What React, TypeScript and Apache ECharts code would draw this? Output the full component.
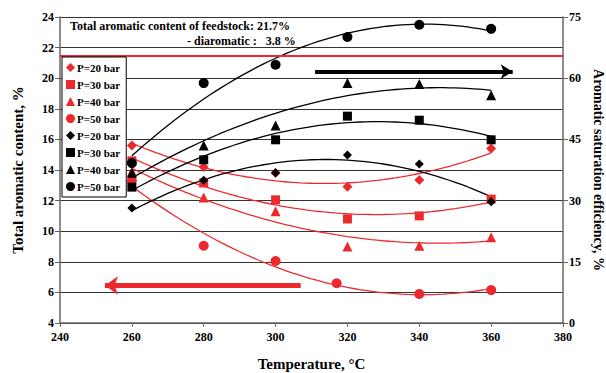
import React, { useEffect, useRef } from "react";
import * as echarts from "echarts";

const temps = [260, 280, 300, 320, 340, 360];
const tempsRedP50 = [260, 280, 300, 317, 340, 360];
const redP20 = [15.6, 14.2, 13.8, 12.9, 13.35, 15.4];
const redP30 = [14.6, 13.15, 12.05, 10.8, 11.0, 12.1];
const redP40 = [13.9, 12.2, 11.3, 9.0, 9.05, 9.6];
const redP50 = [13.3, 9.05, 8.05, 6.6, 5.9, 6.15];
const blkP20 = [28.2, 35.0, 36.8, 41.2, 39.0, 29.7];
const blkP30 = [33.3, 40.0, 44.9, 50.7, 49.7, 44.9];
const blkP40 = [36.8, 43.5, 48.4, 58.8, 58.6, 55.8];
const blkP50 = [39.2, 58.8, 63.3, 70.1, 73.1, 72.1];
const xTicks = [240, 260, 280, 300, 320, 340, 360, 380];
const feedLine = 21.5;

const RED = "#ec2a2e";
const BLK = "#000000";
const FONT = "Liberation Serif, Times New Roman, DejaVu Serif, serif";

function pairs(xs: number[], ys: number[]) {
  return xs.map((x, i) => [x, ys[i]]);
}

// quadratic least-squares trendline (like spreadsheet polynomial trendline)
function quadFit(xs: number[], ys: number[]) {
  const n = xs.length;
  const xm = xs.reduce((a, b) => a + b, 0) / n;
  const u = xs.map((x) => x - xm);
  let s0 = n, s1 = 0, s2 = 0, s3 = 0, s4 = 0, t0 = 0, t1 = 0, t2 = 0;
  for (let i = 0; i < n; i++) {
    const x = u[i], y = ys[i];
    s1 += x; s2 += x * x; s3 += x * x * x; s4 += x * x * x * x;
    t0 += y; t1 += x * y; t2 += x * x * y;
  }
  const M = [
    [s0, s1, s2, t0],
    [s1, s2, s3, t1],
    [s2, s3, s4, t2],
  ];
  for (let c = 0; c < 3; c++) {
    let p = c;
    for (let r = c + 1; r < 3; r++) if (Math.abs(M[r][c]) > Math.abs(M[p][c])) p = r;
    [M[c], M[p]] = [M[p], M[c]];
    for (let r = 0; r < 3; r++) {
      if (r === c) continue;
      const f = M[r][c] / M[c][c];
      for (let k = c; k < 4; k++) M[r][k] -= f * M[c][k];
    }
  }
  const a = M[0][3] / M[0][0], b = M[1][3] / M[1][1], c2 = M[2][3] / M[2][2];
  const lo = Math.min(...xs), hi = Math.max(...xs);
  const out: number[][] = [];
  const steps = 60;
  for (let i = 0; i <= steps; i++) {
    const x = lo + ((hi - lo) * i) / steps;
    const d = x - xm;
    out.push([x, a + b * d + c2 * d * d]);
  }
  return out;
}

type S = { name: string; xs: number[]; ys: number[]; color: string; symbol: string; size: number; axis: number };
const seriesDefs: S[] = [
  { name: "P=20 bar", xs: temps, ys: redP20, color: RED, symbol: "diamond", size: 10, axis: 0 },
  { name: "P=30 bar", xs: temps, ys: redP30, color: RED, symbol: "rect", size: 9, axis: 0 },
  { name: "P=40 bar", xs: temps, ys: redP40, color: RED, symbol: "triangle", size: 10, axis: 0 },
  { name: "P=50 bar", xs: tempsRedP50, ys: redP50, color: RED, symbol: "circle", size: 10, axis: 0 },
  { name: "P=20 bar ", xs: temps, ys: blkP20, color: BLK, symbol: "diamond", size: 9, axis: 1 },
  { name: "P=30 bar ", xs: temps, ys: blkP30, color: BLK, symbol: "rect", size: 9, axis: 1 },
  { name: "P=40 bar ", xs: temps, ys: blkP40, color: BLK, symbol: "triangle", size: 10, axis: 1 },
  { name: "P=50 bar ", xs: temps, ys: blkP50, color: BLK, symbol: "circle", size: 10, axis: 1 },
];

export default function App() {
  const ref = useRef<HTMLDivElement>(null);
  useEffect(() => {
    if (!ref.current) return;
    const chart = echarts.init(ref.current, undefined, { renderer: "svg" });
    const series: any[] = [];
    seriesDefs.forEach((s) => {
      series.push({
        type: "line",
        yAxisIndex: s.axis,
        data: quadFit(s.xs, s.ys),
        showSymbol: false,
        symbol: "none",
        smooth: false,
        lineStyle: { color: s.color, width: 1.3 },
        silent: true,
        z: 2,
      });
    });
    seriesDefs.forEach((s) => {
      series.push({
        type: "scatter",
        name: s.name,
        yAxisIndex: s.axis,
        data: pairs(s.xs, s.ys),
        symbol: s.symbol,
        symbolSize: s.size,
        itemStyle: { color: s.color, opacity: 1 },
        z: s.color === BLK ? 4 : 3,
      });
    });
    // annotations: red feedstock line + arrows
    series.push({
      type: "line",
      yAxisIndex: 0,
      data: [],
      markLine: {
        silent: true,
        symbol: ["none", "none"],
        label: { show: false },
        lineStyle: { color: RED, width: 2, type: "solid", opacity: 1 },
        data: [{ yAxis: feedLine }],
      },
    });
    series.push({
      type: "line",
      yAxisIndex: 0,
      data: [],
      markLine: {
        silent: true,
        symbol: ["none", "arrow"],
        symbolSize: [14, 13],
        label: { show: false },
        lineStyle: { color: RED, width: 5, type: "solid", opacity: 1 },
        data: [[{ coord: [307, 6.45] }, { coord: [252.5, 6.45] }]],
      },
    });
    series.push({
      type: "line",
      yAxisIndex: 1,
      data: [],
      markLine: {
        silent: true,
        symbol: ["none", "arrow"],
        symbolSize: [11, 12],
        label: { show: false },
        lineStyle: { color: BLK, width: 4, type: "solid", opacity: 1 },
        data: [[{ coord: [311, 61.6] }, { coord: [366, 61.6] }]],
      },
    });

    const axisLabel = { color: "#000", fontFamily: FONT, fontWeight: "bold", fontSize: 12 };
    const nameStyle = { color: "#000", fontFamily: FONT, fontWeight: "bold", fontSize: 15 };
    chart.setOption({
      animation: false,
      textStyle: { fontFamily: FONT },
      grid: { left: 60, right: 43, top: 17, bottom: 50, outerBoundsMode: "none", containLabel: false },
      legend: {
        orient: "vertical",
        left: 62,
        top: 57,
        data: seriesDefs.map((s) => ({ name: s.name, icon: s.symbol, itemStyle: { color: s.color, opacity: 1 } })),
        formatter: (n: string) => n.trim(),
        itemWidth: 9,
        itemHeight: 9,
        itemGap: 6,
        padding: [5, 6, 5, 4],
        borderColor: "#000",
        borderWidth: 1,
        backgroundColor: "#fff",
        selectedMode: false,
        textStyle: { color: "#000", fontFamily: FONT, fontWeight: "bold", fontSize: 11, padding: [0, 0, 0, -3] },
        z: 10,
      },
      xAxis: {
        type: "value",
        min: xTicks[0],
        max: xTicks[xTicks.length - 1],
        interval: 20,
        name: "Temperature, °C",
        nameLocation: "middle",
        nameGap: 33,
        nameTextStyle: nameStyle,
        axisLine: { lineStyle: { color: "#666", width: 1.5 } },
        axisTick: { show: true, length: 4, lineStyle: { color: "#666" } },
        axisLabel: { ...axisLabel, margin: 8 },
        splitLine: { show: false },
      },
      yAxis: [
        {
          type: "value",
          min: 4,
          max: 24,
          interval: 2,
          name: "Total aromatic content, %",
          nameLocation: "middle",
          nameGap: 35,
          nameTextStyle: nameStyle,
          axisLine: { show: true, lineStyle: { color: "#666", width: 1.5 } },
          axisTick: { show: true, length: 5, lineStyle: { color: "#666" } },
          axisLabel: { ...axisLabel, margin: 6 },
          splitLine: { show: true, lineStyle: { color: "#333", width: 1 } },
        },
        {
          type: "value",
          min: 0,
          max: 75,
          interval: 15,
          name: "Aromatic saturation efficiency, %",
          nameLocation: "middle",
          nameGap: 27,
          nameRotate: -90,
          nameTextStyle: { ...nameStyle, fontSize: 14 },
          axisLine: { show: true, lineStyle: { color: "#666", width: 1.5 } },
          axisTick: { show: true, length: 5, lineStyle: { color: "#666" } },
          axisLabel: { ...axisLabel, margin: 6 },
          splitLine: { show: false },
        },
      ],
      graphic: [
        {
          type: "text",
          left: 70,
          top: 20,
          style: {
            text: "Total aromatic content of feedstock: 21.7%",
            font: `bold 12px ${FONT}`,
            fill: "#000",
          },
          z: 20,
        },
        {
          type: "text",
          left: 187,
          top: 35,
          style: {
            text: "- diaromatic :   3.8 %",
            font: `bold 12px ${FONT}`,
            fill: "#000",
          },
          z: 20,
        },
      ],
      series,
    });
    return () => chart.dispose();
  }, []);
  return <div ref={ref} style={{ width: 606, height: 373, position: "absolute", left: 0, top: 0, background: "#fff" }} />;
}
